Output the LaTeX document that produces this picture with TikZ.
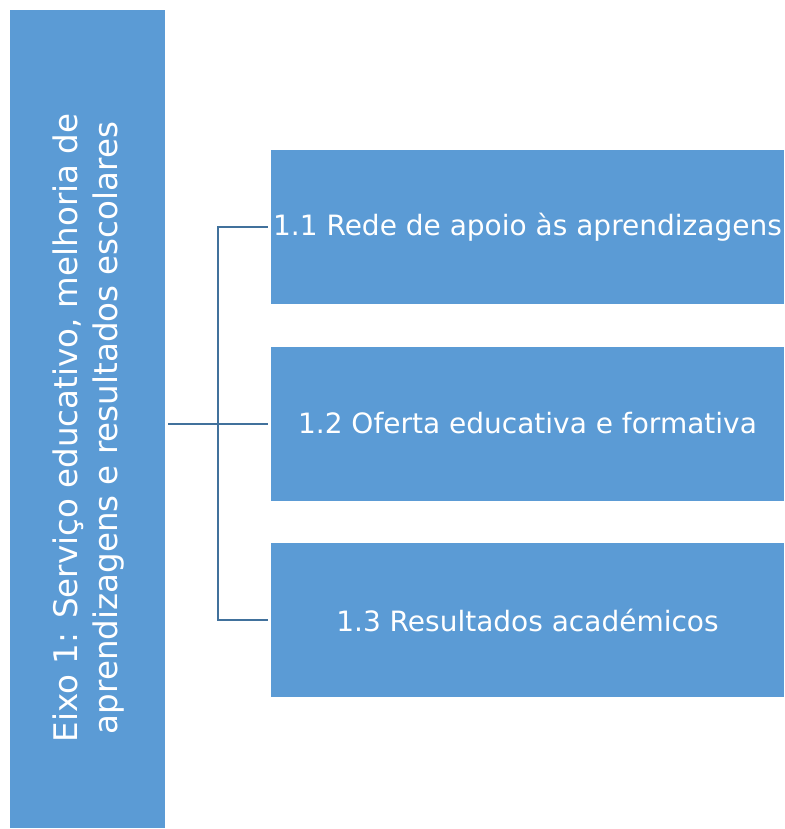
\documentclass[tikz,border=0pt]{standalone}
\usepackage{fontspec}
\setmainfont{DejaVu Sans}
\usetikzlibrary{positioning}
\definecolor{boxblue}{HTML}{5B9BD5}
\definecolor{lineblue}{HTML}{41719C}
\tikzstyle{axisbox} = [rectangle, minimum width=155pt, minimum height=818pt, inner sep=0pt, fill=boxblue]
\tikzstyle{axislabel} = [inner sep=0pt, text centered, align=center, text=white, font=\fontsize{32.5}{40}\selectfont, rotate=90]
\tikzstyle{subbox} = [rectangle, minimum width=513pt, minimum height=154pt, inner sep=0pt, text centered, fill=boxblue, text=white, font=\fontsize{28}{34}\selectfont]
\tikzstyle{link} = [draw=lineblue, line width=2pt]

\begin{document}
\begin{tikzpicture}[node distance = 196.5pt]
\useasboundingbox (0,0) rectangle (784pt,-829pt);

\node(axis) [axisbox] at (87.5pt,-419pt) {};
\node(axistext) [axislabel] at (89pt,-428pt) {Eixo 1: Serviço educativo, melhoria de\\aprendizagens e resultados escolares};
\node(sub1) [subbox] at (527.5pt,-227pt) {1.1 Rede de apoio às aprendizagens};
\node(sub2) [subbox, below of=sub1] {1.2 Oferta educativa e formativa};
\node(sub3) [subbox, below of=sub2] {1.3 Resultados académicos};
\coordinate(fork) at (218pt,-423pt);

\draw [link] ([xshift=3pt]axis.east |- sub2.west) -- ([xshift=-3pt]sub2.west);
\draw [link] ([xshift=-3pt]sub1.west) -| (fork) |- ([xshift=-3pt]sub3.west);

\end{tikzpicture}
\end{document}
